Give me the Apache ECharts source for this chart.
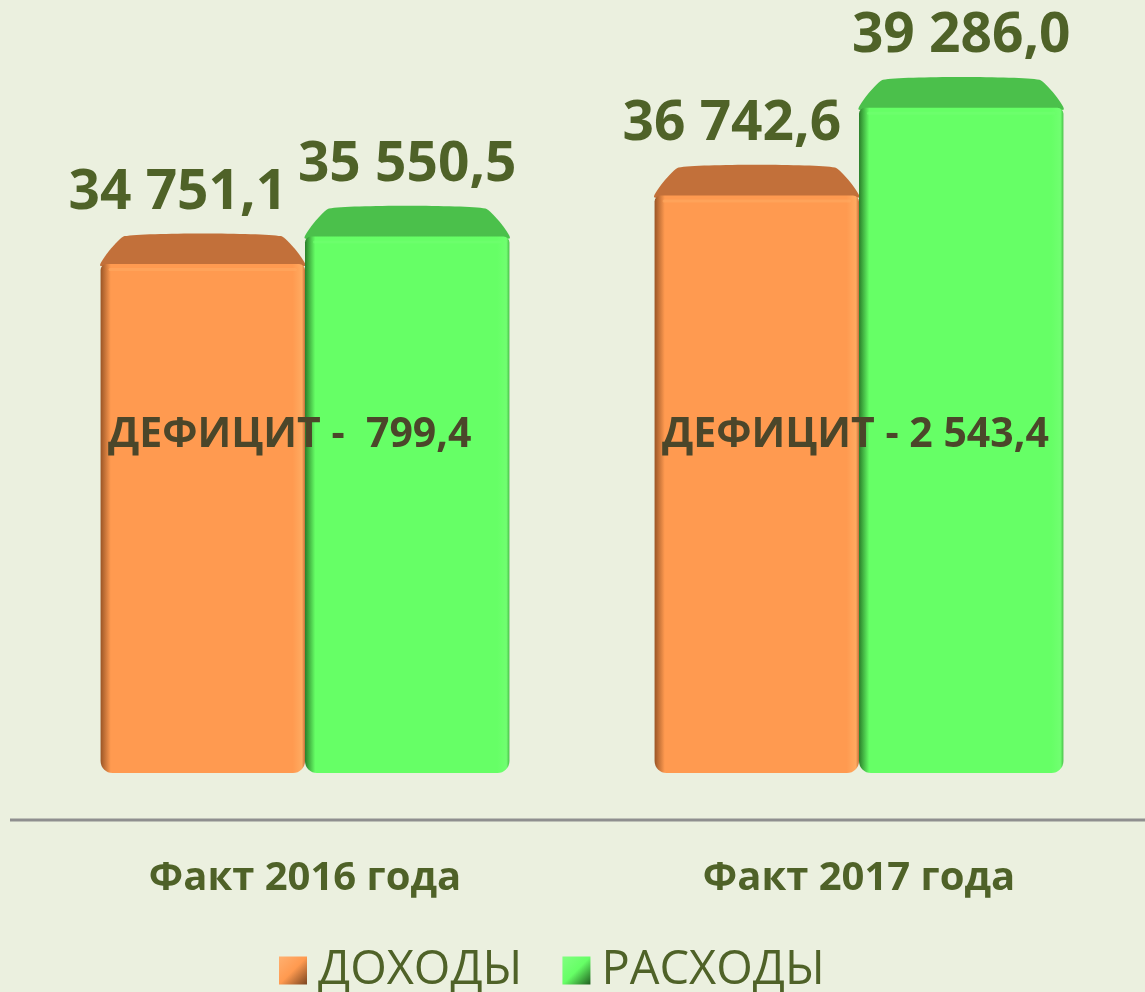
<!DOCTYPE html>
<html>
<head>
<meta charset="utf-8">
<script src="https://cdn.jsdelivr.net/npm/echarts@6/dist/echarts.min.js"></script>
<style>
html,body{margin:0;padding:0;background:#EBF0DF;}
#chart{width:1145px;height:992px;}
</style>
</head>
<body>
<div id="chart"></div>
<script>
// ---- data ----
const categories = ['Факт 2016 года', 'Факт 2017 года'];
const seriesNames = ['ДОХОДЫ', 'РАСХОДЫ'];
const income = [34751.1, 36742.6];
const expenses = [35550.5, 39286.0];
const deficit = [799.4, 2543.4];
const deficitPrefix = ['ДЕФИЦИТ -  ', 'ДЕФИЦИТ - '];

// ---- styles ----
const Y_MIN = 20000, Y_MAX = 42000;
const TXT = '#4F6228';
const FONT = '"Open Sans", "Noto Sans", sans-serif';
const palette = [
  {front: '#FF9A50', top: '#C2703A', edge: '#9A5526', light: '#FFAA60', label: -25},
  {front: '#66FF66', top: '#4BC04B', edge: '#2A7F2A', light: '#70FF70', label: 0}
];

function fmt(v) {
  const s = v.toFixed(1).split('.');
  const int = s[0].replace(/\B(?=(\d{3})+(?!\d))/g, ' ');
  return int + ',' + s[1];
}

function barRenderer(s) {
  const p = palette[s];
  return function (params, api) {
    const i = api.value(0), v = api.value(1);
    const c = api.coord([i, v]);
    const b = api.coord([i, Y_MIN]);
    const band = api.size([1, 0])[0];
    const w = band * 0.369;
    const x0 = s === 0 ? c[0] - w : c[0];
    const x1 = x0 + w;
    const top = c[1], base = b[1];
    const depth = 28, bev = 24;
    const grad = new echarts.graphic.LinearGradient(0, 0, 1, 0, [
      {offset: 0, color: p.edge},
      {offset: 0.05, color: p.front},
      {offset: 0.94, color: p.front},
      {offset: 0.985, color: p.light},
      {offset: 1, color: p.top}
    ]);
    return {
      type: 'group',
      children: [
        {
          type: 'polygon',
          shape: {points: [[x0, top + 2], [x0 + bev, top - depth], [x1 - bev, top - depth], [x1, top + 2]], smooth: 0.15},
          style: {fill: p.top}
        },
        {
          type: 'rect',
          shape: {x: x0, y: top, width: w, height: base - top, r: [6, 6, 12, 12]},
          style: {fill: grad}
        },
        {
          type: 'rect',
          shape: {x: x0 + 8, y: top + 4, width: w - 16, height: 3, r: 2},
          style: {fill: p.light, opacity: 0.6}
        },
        {
          type: 'text',
          style: {
            text: fmt(v),
            x: (x0 + x1) / 2 + p.label,
            y: top - depth - 43,
            fill: TXT,
            fontSize: 55,
            fontWeight: 'bold',
            fontFamily: FONT,
            align: 'center',
            verticalAlign: 'middle'
          }
        }
      ]
    };
  };
}

function deficitRenderer(params, api) {
  const i = api.value(0), v = api.value(1);
  const b = api.coord([i, Y_MIN]);
  return {
    type: 'text',
    z2: 100,
    style: {
      text: deficitPrefix[i] + fmt(v),
      x: b[0] - 197,
      y: b[1] - 338,
      fill: '#4B462A',
      fontSize: 41,
      fontWeight: 'bold',
      fontFamily: FONT,
      align: 'left',
      verticalAlign: 'middle'
    }
  };
}

const chart = echarts.init(document.getElementById('chart'), null, {renderer: 'canvas'});
chart.setOption({
  backgroundColor: '#EBF0DF',
  animation: false,
  grid: {left: 28, right: 9, top: 14, bottom: 219},
  legend: {
    data: [
      {name: seriesNames[0], itemStyle: {color: new echarts.graphic.LinearGradient(0, 0, 1, 1, [{offset: 0, color: '#FFB070'}, {offset: 0.5, color: '#FF9A50'}, {offset: 1, color: '#7A4520'}])}},
      {name: seriesNames[1], itemStyle: {color: new echarts.graphic.LinearGradient(0, 0, 1, 1, [{offset: 0, color: '#80FF80'}, {offset: 0.5, color: '#66FF66'}, {offset: 1, color: '#1F5F1F'}])}}
    ],
    left: 274,
    top: 942,
    itemWidth: 28,
    itemHeight: 28,
    itemGap: 40,
    icon: 'rect',
    textStyle: {color: TXT, fontSize: 47, fontFamily: FONT, padding: [0, 0, 0, 6]}
  },
  xAxis: {
    type: 'category',
    data: categories,
    offset: 47,
    axisLine: {show: false},
    axisTick: {show: false},
    axisLabel: {color: TXT, fontSize: 40, fontWeight: 'bold', fontFamily: FONT, margin: 39}
  },
  yAxis: {
    type: 'value', min: Y_MIN, max: Y_MAX, show: false,
    splitLine: {show: false}
  },
  graphic: [{
    type: 'line',
    shape: {x1: 10, y1: 820, x2: 1145, y2: 820},
    style: {stroke: '#8F8F8F', lineWidth: 3}
  }],
  series: [
    {
      name: seriesNames[0], type: 'custom', clip: false,
      itemStyle: {color: palette[0].front},
      renderItem: barRenderer(0),
      encode: {x: 0, y: 1},
      data: income.map((v, i) => [i, v])
    },
    {
      name: seriesNames[1], type: 'custom', clip: false,
      itemStyle: {color: palette[1].front},
      renderItem: barRenderer(1),
      encode: {x: 0, y: 1},
      data: expenses.map((v, i) => [i, v])
    },
    {
      name: 'deficit', type: 'custom', clip: false, z: 5,
      renderItem: deficitRenderer,
      encode: {x: 0},
      data: deficit.map((v, i) => [i, v])
    }
  ]
});
</script>
</body>
</html>
